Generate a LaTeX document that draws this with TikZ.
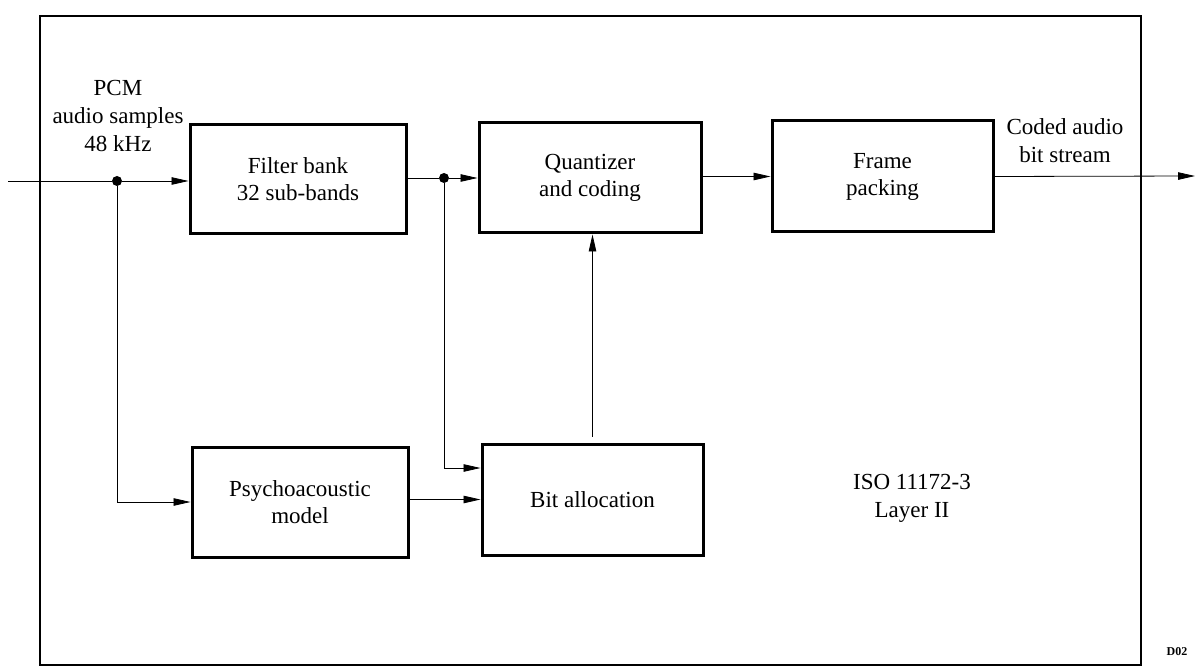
\documentclass[tikz,border=0pt]{standalone}
\usepackage{fontspec}
\setmainfont{Liberation Serif}
\usetikzlibrary{arrows.meta}
\begin{document}
\begin{tikzpicture}[x=1pt,y=-1pt,
  blk/.style={draw, line width=3pt, inner sep=0pt, align=center,
    font=\fontsize{23}{27}\selectfont},
  lbl/.style={inner sep=0pt, align=center, font=\fontsize{23}{28}\selectfont},
  conn/.style={line width=0.8pt},
  arr/.style={conn, -{Triangle[length=17pt,width=7.5pt]}},
  dot/.style={circle, fill, inner sep=0pt, minimum size=10pt}]
\useasboundingbox (0,0) rectangle (1196,668);
% outer frame
\draw[line width=2.4pt] (40,16) rectangle (1141,665);
% blocks
\node[blk, minimum width=216pt, minimum height=109pt] (fb) at (298,179.5) {Filter bank\\32 sub-bands};
\node[blk, minimum width=222pt, minimum height=110pt] (q) at (590,178) {Quantizer\\and coding};
\node[blk, minimum width=221pt, minimum height=111pt] (fp) at (882.5,176.5) {Frame\\packing};
\node[blk, minimum width=216pt, minimum height=110pt] (pa) at (300,502) {Psychoacoustic\\model};
\node[blk, minimum width=221pt, minimum height=111pt] (ba) at (592.5,499.5) {Bit allocation};
% junction dots and free ends
\node[dot] (d1) at (117,181) {};
\node[dot] (d2) at (444,178) {};
\coordinate (in) at (8,181);
\coordinate (out) at (1195,176);
% labels
\node[lbl] (pcm) at (118,116) {PCM\\audio samples\\48 kHz};
\node[lbl] (cab) at (1065,141) {Coded audio\\bit stream};
\node[lbl] (iso) at (912,498) {ISO 11172-3\\Layer II};
\node[inner sep=0pt, font=\fontsize{12}{14}\selectfont\bfseries] (d02) at (1177,652) {D02};
% connectors
\draw[conn] (in) -- (d1);
\draw[arr] (d1) -- (d1 -| fb.west);
\draw[conn] (fb.east |- d2) -- (d2);
\draw[arr] (d2) -- (d2 -| q.west);
\draw[arr] (q.east |- fp.west) -- (fp.west);
\draw[arr] (fp.east) -- (out);
\draw[arr] (d1) |- (pa.west);
\draw[arr] (d2) |- ([yshift=31.5pt]ba.west);
\draw[arr] (pa.east |- ba.west) -- (ba.west);
\draw[arr] ([yshift=6pt]ba.north) -- (q.south -| ba.north);
\end{tikzpicture}
\end{document}
